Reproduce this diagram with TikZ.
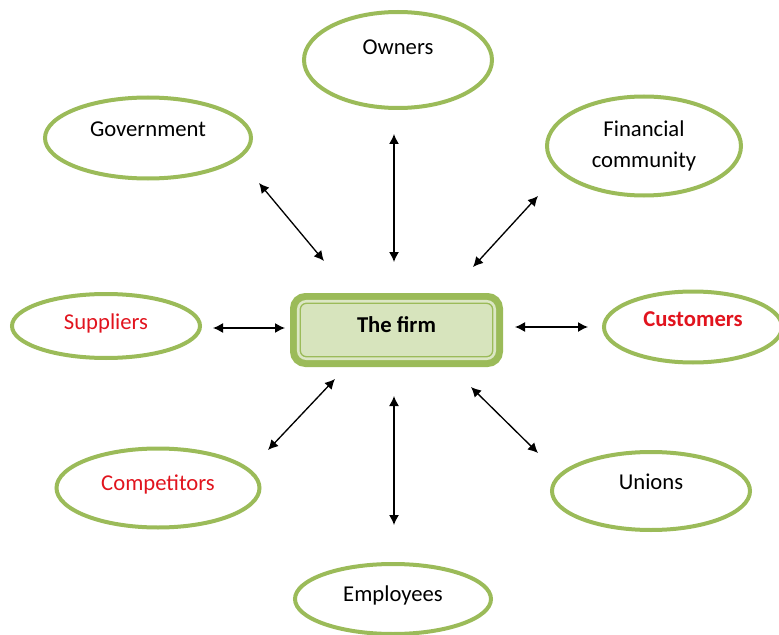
\documentclass[tikz,border=0pt]{standalone}
\usepackage{fontspec}
\setmainfont{Carlito}
\usepackage{tikz}
\usetikzlibrary{shapes.geometric,arrows.meta}
\definecolor{frame}{HTML}{9BBB59}
\definecolor{firmfill}{HTML}{D7E4BD}
\definecolor{redtext}{RGB}{225,20,30}

\begin{document}
\begin{tikzpicture}[x=0.75pt,y=-0.75pt,
    party/.style={ellipse, draw=frame, line width=3pt, inner sep=0pt, align=center,
                  font=\fontsize{17}{20}\selectfont},
    textup/.style={text height=12pt, text depth=#1},
    link/.style={{Latex[length=7.5pt,width=7.5pt]}-{Latex[length=7.5pt,width=7.5pt]}, line width=1pt}]
    \useasboundingbox (0,0) rectangle (779,635);

    \node[draw=frame, fill=firmfill, line width=5.25pt, rounded corners=9pt,
          minimum width=154.5pt, minimum height=50.25pt, textup=9pt,
          font=\fontsize{17}{20}\selectfont\bfseries] (firm) at (396.5,330) {The firm};
    \draw[frame, double=white!65!frame, double distance=1.9pt, line width=1.1pt, rounded corners=6pt]
        ([shift={(8.25,8.25)}]firm.north west) rectangle ([shift={(-8.25,-8.25)}]firm.south east);

    \node[party, minimum width=141pt, minimum height=72pt, textup=20pt] (owners) at (398,60) {Owners};
    \node[party, minimum width=154.5pt, minimum height=60.75pt, textup=14pt] (govt) at (148,138) {Government};
    \node[party, minimum width=145.5pt, minimum height=74.25pt,
          font=\fontsize{17}{23}\selectfont] (finance) at (644,146) {Financial\\community};
    \node[party, minimum width=141pt, minimum height=48pt, textup=6.5pt, text=redtext] (suppliers) at (106,326) {Suppliers};
    \node[party, minimum width=133.5pt, minimum height=53.25pt, textup=12.5pt, text=redtext,
          font=\fontsize{17}{20}\selectfont\bfseries] (customers) at (693,327) {Customers};
    \node[party, minimum width=152.25pt, minimum height=59.25pt, textup=8pt, text=redtext] (competitors) at (158,488) {Competitors};
    \node[party, minimum width=148.5pt, minimum height=58.5pt, textup=14pt] (unions) at (651,491) {Unions};
    \node[party, minimum width=147pt, minimum height=52.5pt, textup=8pt] (employees) at (393,599) {Employees};

    \coordinate (o1) at (394,134);
    \coordinate (o2) at (394,262);
    \coordinate (g1) at (259,183);
    \coordinate (g2) at (324,261);
    \coordinate (f1) at (538,196);
    \coordinate (f2) at (473,267);
    \coordinate (s1) at (213,328);
    \coordinate (s2) at (285,328);
    \coordinate (c1) at (515,327);
    \coordinate (c2) at (588,327);
    \coordinate (k1) at (335,379);
    \coordinate (k2) at (268,450);
    \coordinate (u1) at (471,387);
    \coordinate (u2) at (538,453);
    \coordinate (e1) at (394,396);
    \coordinate (e2) at (394,525);

    \draw[link] (o1) -- (o2);
    \draw[link] (g1) -- (g2);
    \draw[link] (f1) -- (f2);
    \draw[link] (s1) -- (s2);
    \draw[link] (c1) -- (c2);
    \draw[link] (k1) -- (k2);
    \draw[link] (u1) -- (u2);
    \draw[link] (e1) -- (e2);
\end{tikzpicture}
\end{document}
